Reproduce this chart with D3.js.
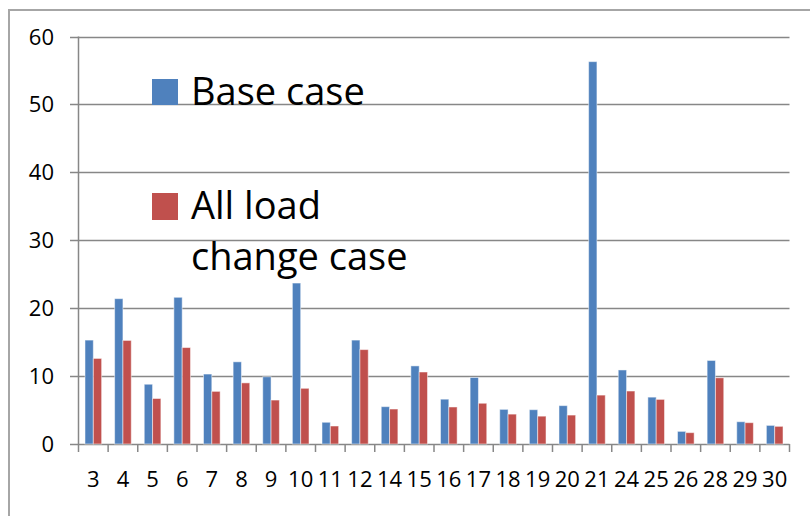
<!DOCTYPE html>
<html>
<head>
<meta charset="utf-8">
<script src="https://cdn.jsdelivr.net/npm/d3@7"></script>
<style>
  body { margin: 0; background: #fff; }
  svg text { font-family: "Open Sans", sans-serif; fill: #000; }
</style>
</head>
<body>
<div id="chart"></div>
<script>
// bus numbers along the x axis
var buses = ['3','4','5','6','7','8','9','10','11','12','14','15','16','17','18','19','20','21','24','25','26','28','29','30'];
var baseCase = [15.3, 21.4, 8.8, 21.6, 10.3, 12.1, 9.9, 23.7, 3.2, 15.3, 5.5, 11.5, 6.6, 9.8, 5.1, 5.05, 5.65, 56.3, 10.9, 6.9, 1.86, 12.3, 3.28, 2.74];
var allLoad  = [12.6, 15.25, 6.7, 14.2, 7.75, 9.0, 6.47, 8.2, 2.65, 13.9, 5.15, 10.6, 5.45, 6.0, 4.4, 4.1, 4.26, 7.2, 7.8, 6.57, 1.67, 9.75, 3.14, 2.6];
var yTicks = [0, 10, 20, 30, 40, 50, 60];
var seriesNames = ['Base case', 'All load change case'];
var colors = ['#4F81BD', '#C0504D'];

var W = 810, H = 516;

let svg = d3.select('#chart').append('svg')
    .attr('width', W)
    .attr('height', H)

// outer chart frame (runs off the page on the right and bottom)
svg.append('rect')
    .attr('x', 9).attr('y', 10)
    .attr('width', 830).attr('height', 540)
    .attr('fill', 'none')
    .attr('stroke', '#a6a6a6')
    .attr('stroke-width', 2)

let x = d3.scaleBand().domain(buses).range([78.5, 789.5]).padding(0)
let xSub = d3.scaleBand().domain([0, 1]).range([0, x.bandwidth()]).paddingInner(0).paddingOuter(0.78)
let y = d3.scaleLinear().domain([0, 60]).range([444, 36.5])

// gridlines
svg.append('g')
    .selectAll('line')
    .data(yTicks)
    .enter().append('line')
    .attr('x1', 70).attr('x2', 789.5)
    .attr('y1', d => Math.round(y(d)) + 0.5).attr('y2', d => Math.round(y(d)) + 0.5)
    .attr('stroke', '#878787')
    .attr('stroke-width', 1.5)

// y axis line
svg.append('line')
    .attr('x1', 78.5).attr('x2', 78.5)
    .attr('y1', y(60)).attr('y2', y(0))
    .attr('stroke', '#878787').attr('stroke-width', 1.5)

svg.append('g')
    .selectAll('text')
    .data(yTicks)
    .enter().append('text')
    .attr('x', 54)
    .attr('y', d => y(d) + 8)
    .attr('text-anchor', 'end')
    .style('font-size', '22px')
    .text(d => d)

// x axis ticks at category boundaries
var bounds = buses.map(b => x(b)).concat([x(buses[buses.length - 1]) + x.bandwidth()])
svg.append('g')
    .selectAll('line')
    .data(bounds)
    .enter().append('line')
    .attr('x1', d => d).attr('x2', d => d)
    .attr('y1', y(0)).attr('y2', y(0) + 8)
    .attr('stroke', '#878787').attr('stroke-width', 1.5)

svg.append('g')
    .selectAll('text')
    .data(buses)
    .enter().append('text')
    .attr('x', d => x(d) + x.bandwidth() / 2)
    .attr('y', 487)
    .attr('text-anchor', 'middle')
    .style('font-size', '22px')
    .text(d => d)

// bars
var rows = buses.map((b, i) => ({bus: b, vals: [baseCase[i], allLoad[i]]}))

let groups = svg.selectAll('g.bus').data(rows)
    .enter().append('g')
    .attr('class', 'bus')
    .attr('transform', d => 'translate(' + x(d.bus) + ',0)')

groups.selectAll('rect')
    .data(d => d.vals)
    .enter().append('rect')
    .attr('x', (v, k) => xSub(k))
    .attr('width', xSub.bandwidth())
    .attr('y', v => y(v))
    .attr('height', v => y(0) - y(v))
    .attr('fill', (v, k) => colors[k])
    .attr('stroke', '#ffffff')
    .attr('stroke-opacity', 0.5)
    .attr('stroke-width', 1)

// legend
var legend = svg.append('g')
legend.append('rect').attr('x', 152).attr('y', 79).attr('width', 26).attr('height', 26).attr('fill', colors[0])
legend.append('text').attr('x', 191).attr('y', 105).style('font-size', '38px').text(seriesNames[0])

legend.append('rect').attr('x', 152).attr('y', 193).attr('width', 26).attr('height', 27).attr('fill', colors[1])
legend.append('text').attr('x', 191).attr('y', 219).style('font-size', '38px').text('All load')
legend.append('text').attr('x', 191).attr('y', 270).style('font-size', '38px').text('change case')
</script>
</body>
</html>
